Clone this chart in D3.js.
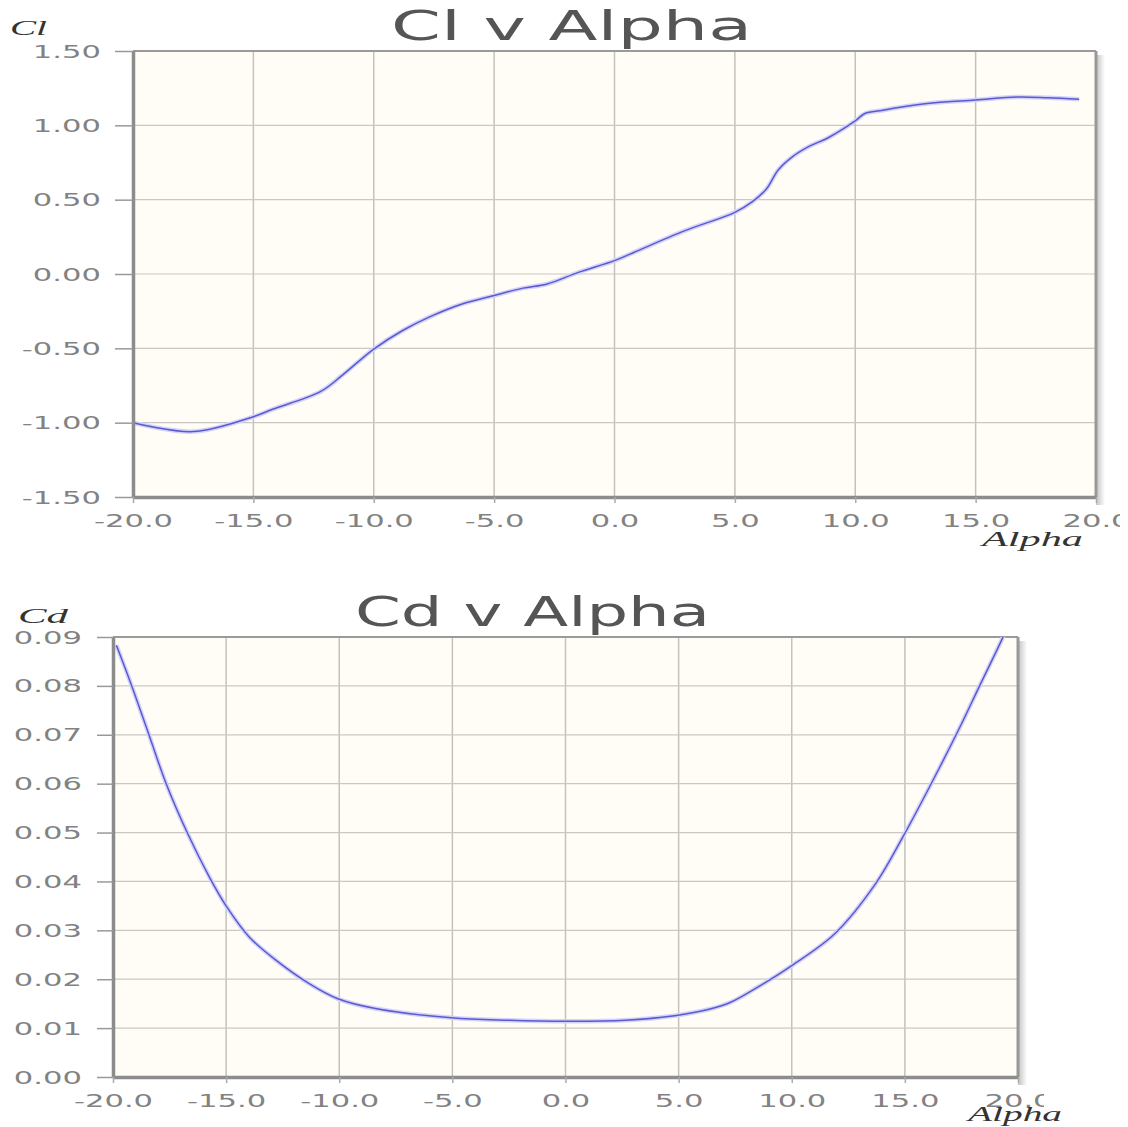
<!DOCTYPE html>
<html>
<head>
<meta charset="utf-8">
<script src="https://cdn.jsdelivr.net/npm/d3@7"></script>
<style>
  body { margin: 0; background: #fff; }
  svg { display: block; }
</style>
</head>
<body>
<div id="charts"></div>
<script>
// Cl v Alpha
const clAlpha = [-20, -17.5, -15, -14.2, -12.2, -11.3, -10, -8.8, -7.7, -6.3, -5, -3.8, -2.8, -1.5, 0, 0.8, 2.9, 5, 5.7, 6.3, 6.8, 7.4, 8.1, 8.8, 10, 10.4, 11.1, 11.8, 13.2, 15, 16.7, 18, 19.3];
const clValues = [-1.00, -1.06, -0.96, -0.91, -0.79, -0.68, -0.505, -0.38, -0.29, -0.20, -0.145, -0.095, -0.067, 0.011, 0.09, 0.145, 0.29, 0.415, 0.483, 0.57, 0.70, 0.79, 0.86, 0.91, 1.03, 1.08, 1.10, 1.12, 1.15, 1.17, 1.19, 1.185, 1.175];

// Cd v Alpha
const cdAlpha = [-19.85, -19.26, -18.53, -17.65, -16.7, -15.74, -15, -13.97, -12.8, -11.33, -10.06, -8.4, -5.04, -2.5, 0, 2.64, 4.9, 6.3, 7.3, 8.5, 10, 11.9, 13.7, 14.9, 16.5, 17.5, 18.25, 19.27, 19.6];
const cdValues = [0.0883, 0.0811, 0.0716, 0.060, 0.0498, 0.0409, 0.0350, 0.0286, 0.0239, 0.0191, 0.016, 0.014, 0.0121, 0.0116, 0.0114, 0.0116, 0.0126, 0.0138, 0.0153, 0.0184, 0.0228, 0.0293, 0.0395, 0.0490, 0.0630, 0.0722, 0.0795, 0.0893, 0.0928];

// tick labels
const alphaTicks = [-20, -15, -10, -5, 0, 5, 10, 15, 20];
const clTicks = [-1.5, -1.0, -0.5, 0.0, 0.5, 1.0, 1.5];
const cdTicks = [0, 0.01, 0.02, 0.03, 0.04, 0.05, 0.06, 0.07, 0.08, 0.09];

const stretch = 1.8; // the picture is stretched sideways

const svg = d3.select("#charts").append("svg")
    .attr("width", 1128)
    .attr("height", 1127);

const defs = svg.append("defs");
defs.append("linearGradient")
    .attr("id", "shadow")
    .selectAll("stop")
    .data([
        {offset: "0%", color: "rgba(120,120,120,0.45)"},
        {offset: "100%", color: "rgba(120,120,120,0)"}
    ])
    .enter().append("stop")
    .attr("offset", d => d.offset)
    .attr("stop-color", d => d.color);

function drawChart(cfg) {
    const x = d3.scaleLinear().domain([-20, 20]).range(cfg.xRange);
    const y = d3.scaleLinear().domain(cfg.yDomain).range(cfg.yRange);
    const [x0, x1] = cfg.xRange;
    const [y0, y1] = [cfg.yRange[1], cfg.yRange[0]];

    const g = svg.append("g");

    // shadow on the right and background
    g.append("rect")
        .attr("x", x1).attr("y", y0 + 4)
        .attr("width", 9).attr("height", y1 - y0 + 4)
        .attr("fill", "url(#shadow)");
    g.append("rect")
        .attr("x", x0).attr("y", y0)
        .attr("width", x1 - x0).attr("height", y1 - y0)
        .attr("fill", "#fffdf6");

    // grid
    g.append("g")
        .selectAll("line")
        .data(alphaTicks.slice(1, -1))
        .enter().append("line")
        .attr("x1", d => x(d)).attr("x2", d => x(d))
        .attr("y1", y0).attr("y2", y1)
        .attr("stroke", "#c4c2bd").attr("stroke-width", 1.5);
    g.append("g")
        .selectAll("line")
        .data(cfg.yTicks.slice(1, -1))
        .enter().append("line")
        .attr("x1", x0).attr("x2", x1)
        .attr("y1", d => y(d)).attr("y2", d => y(d))
        .attr("stroke", "#cac8c3").attr("stroke-width", 1.2);

    // top & right border
    g.append("line").attr("x1", x0).attr("x2", x1).attr("y1", y0).attr("y2", y0)
        .attr("stroke", "#9a9a9a").attr("stroke-width", 2);
    g.append("line").attr("x1", x1).attr("x2", x1).attr("y1", y0).attr("y2", y1)
        .attr("stroke", "#999").attr("stroke-width", 3);

    // curve
    const clipId = "clip-" + cfg.id;
    defs.append("clipPath").attr("id", clipId)
        .append("rect")
        .attr("x", x0).attr("y", y0)
        .attr("width", x1 - x0).attr("height", y1 - y0);

    const pts = cfg.xs.map((a, i) => [a, cfg.ys[i]]);
    const line = d3.line()
        .x(d => x(d[0]))
        .y(d => y(d[1]))
        .curve(d3.curveCatmullRom.alpha(0.5));

    const lg = g.append("g").attr("clip-path", `url(#${clipId})`);
    lg.append("path")
        .attr("d", line(pts))
        .attr("fill", "none")
        .attr("stroke", "#d4d4fb")
        .attr("stroke-width", 4.5);
    lg.append("path")
        .attr("d", line(pts))
        .attr("fill", "none")
        .attr("stroke", "#5a5ad0")
        .attr("stroke-width", 1.5);

    // left axis
    g.append("g")
        .attr("transform", `translate(${x0},0)`)
        .call(d3.axisLeft(y).tickValues(cfg.yTicks).tickSize(cfg.leftTick).tickSizeOuter(0)
            .tickFormat(d => d.toFixed(2)))
        .call(a => a.select(".domain")
            .attr("stroke", "#8c8c8c").attr("stroke-width", 3.5))
        .call(a => a.selectAll(".tick line").attr("stroke", "#999").attr("stroke-width", 1.5))
        .call(a => a.selectAll(".tick text")
            .attr("x", null).attr("dy", null)
            .attr("transform", `translate(${-cfg.leftLabelGap},6) scale(${stretch},1)`)
            .attr("fill", "#828282")
            .attr("font-family", "DejaVu Sans")
            .attr("font-size", 17)
            .attr("text-anchor", "end"));

    // bottom axis
    const bx = g.append("g")
        .attr("transform", `translate(0,${y1})`)
        .call(d3.axisBottom(x).tickValues(alphaTicks).tickSize(6).tickSizeOuter(0)
            .tickFormat(d => d.toFixed(1)))
        .call(a => a.select(".domain")
            .attr("stroke", "#8c8c8c").attr("stroke-width", 3.5))
        .call(a => a.selectAll(".tick line").attr("stroke", "#aaa").attr("stroke-width", 1.5))
        .call(a => a.selectAll(".tick text")
            .attr("y", null).attr("dy", null)
            .attr("transform", `translate(0,30) scale(${stretch},1)`)
            .attr("fill", "#828282")
            .attr("font-family", "DejaVu Sans")
            .attr("font-size", 17));
    // the last tick label is cut off in the original
    defs.append("clipPath").attr("id", clipId + "-lab")
        .append("rect")
        .attr("x", 0).attr("y", -20)
        .attr("width", cfg.labelClip).attr("height", 80);
    bx.attr("clip-path", `url(#${clipId}-lab)`);

    // title
    g.append("text")
        .attr("x", cfg.title.x).attr("y", cfg.title.y)
        .attr("textLength", cfg.title.w)
        .attr("lengthAdjust", "spacingAndGlyphs")
        .attr("font-family", "DejaVu Sans")
        .attr("font-size", 41)
        .attr("fill", "#555")
        .text(cfg.title.text);

    // axis names
    g.append("text")
        .attr("x", cfg.yName.x).attr("y", cfg.yName.y)
        .attr("textLength", cfg.yName.w)
        .attr("lengthAdjust", "spacingAndGlyphs")
        .attr("font-family", "Liberation Serif")
        .attr("font-style", "italic")
        .attr("font-size", 20)
        .attr("fill", "#333")
        .text(cfg.yName.text);
    g.append("text")
        .attr("x", cfg.xName.x).attr("y", cfg.xName.y)
        .attr("textLength", cfg.xName.w)
        .attr("lengthAdjust", "spacingAndGlyphs")
        .attr("font-family", "Liberation Serif")
        .attr("font-style", "italic")
        .attr("font-size", 20)
        .attr("fill", "#333")
        .text("Alpha");
}

drawChart({
    id: "cl",
    xs: clAlpha, ys: clValues,
    xRange: [133, 1096],
    yDomain: [-1.5, 1.5], yRange: [497, 51],
    yTicks: clTicks,
    leftTick: 18, leftLabelGap: 32,
    labelClip: 1120,
    title: {text: "Cl v Alpha", x: 391, y: 40, w: 361},
    yName: {text: "Cl", x: 10, y: 35, w: 37},
    xName: {x: 982, y: 546, w: 101}
});

drawChart({
    id: "cd",
    xs: cdAlpha, ys: cdValues,
    xRange: [113, 1018],
    yDomain: [0, 0.09], yRange: [1077, 637],
    yTicks: cdTicks,
    leftTick: 16, leftLabelGap: 31,
    labelClip: 1044,
    title: {text: "Cd v Alpha", x: 355, y: 626, w: 355},
    yName: {text: "Cd", x: 18, y: 623, w: 50},
    xName: {x: 968, y: 1121, w: 94}
});
</script>
</body>
</html>
